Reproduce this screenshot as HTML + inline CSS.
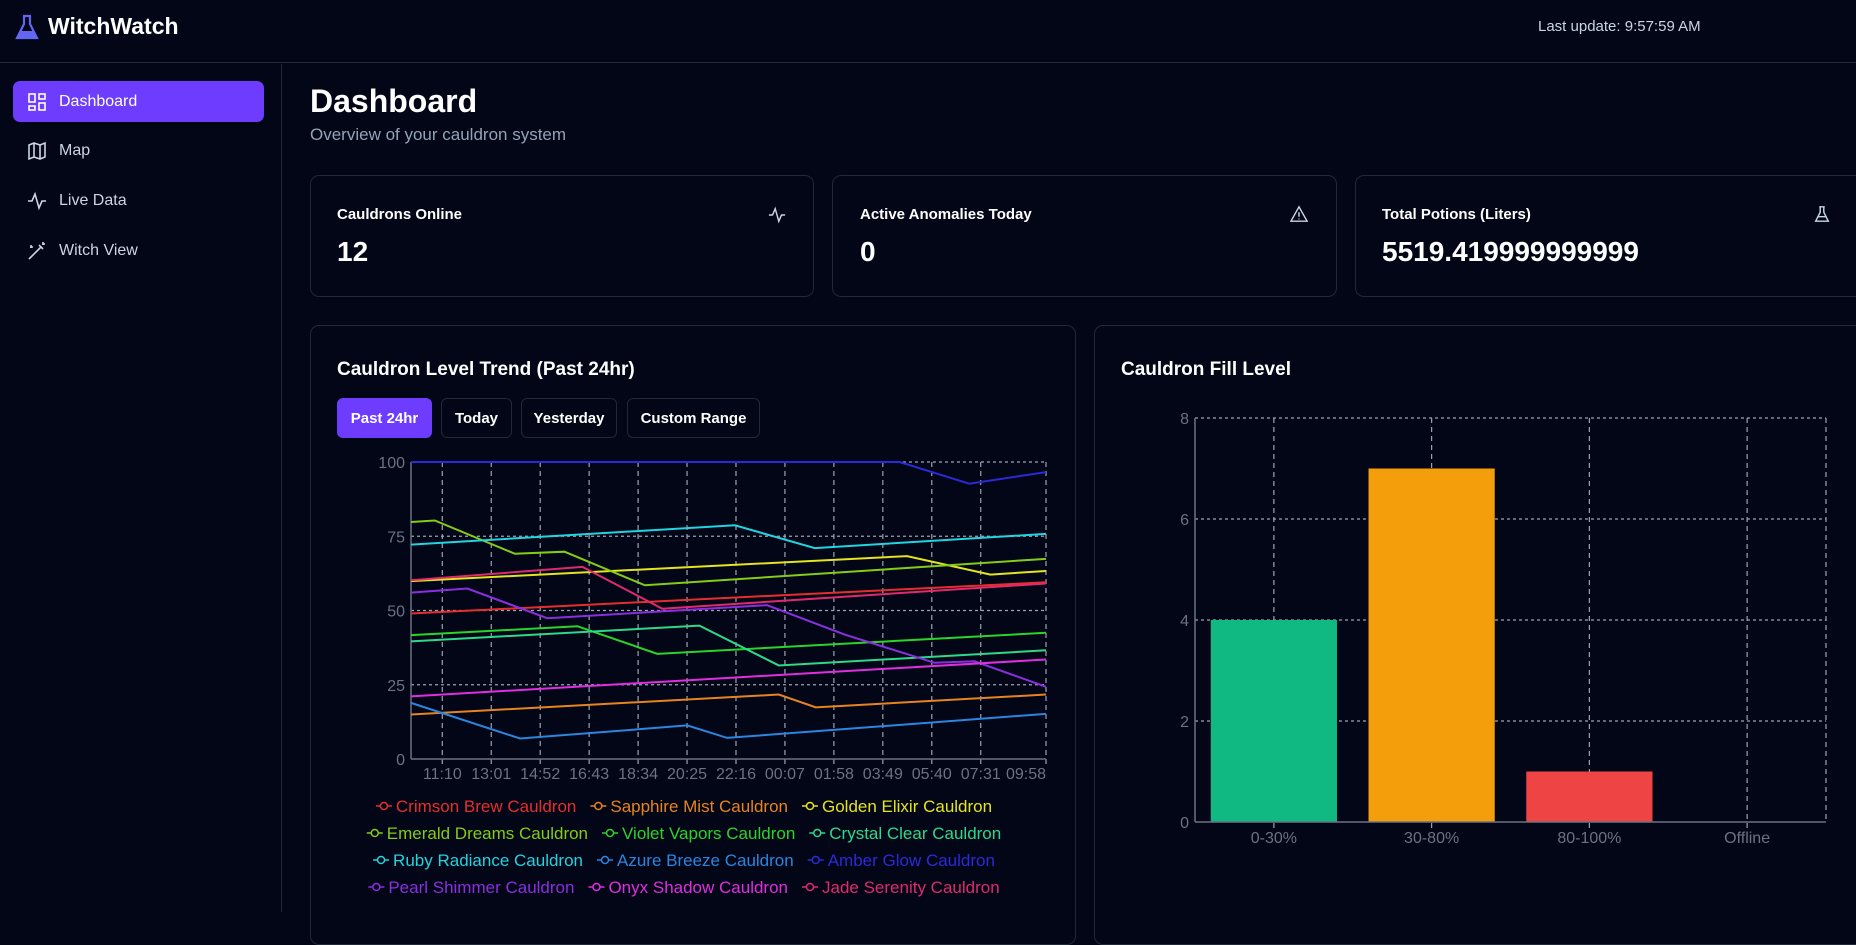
<!DOCTYPE html>
<html><head><meta charset="utf-8"><style>
*{box-sizing:border-box;margin:0;padding:0}
body{width:1856px;height:912px;overflow:hidden;background:#020617;font-family:"Liberation Sans",sans-serif;color:#fff;position:relative}
.abs{position:absolute}
.card{position:absolute;border:1px solid #1f2937;border-radius:9px;background:#020617}
.nav{position:absolute;left:13px;width:251px;height:41px;border-radius:7px;display:flex;align-items:center;font-size:16px;color:#cbd5e1}
.nav svg{margin-left:14px;margin-right:12px}
.btn{position:absolute;top:398px;height:40px;border:1px solid #1f2937;border-radius:6px;font-size:15px;font-weight:bold;display:flex;align-items:center;justify-content:center;color:#fff}
.lab{font-size:15px;font-weight:bold;position:absolute;top:206px}
.val{font-size:28px;font-weight:bold;position:absolute;top:236px}
</style></head><body>
<div class="abs" style="left:0;top:0;width:1856px;height:63px;border-bottom:1px solid #1f2937">
<svg class="abs" style="left:14px;top:14px" width="26" height="28" viewBox="0 0 26 28"><path d="M9 2h8M10 2v8L3 24h20L16 10V2" fill="none" stroke="#6366f1" stroke-width="2.2"/><path d="M6 17h14l3 7H3z" fill="#6366f1"/></svg>
<div class="abs" style="left:48px;top:13px;font-size:23px;font-weight:bold">WitchWatch</div>
<div class="abs" style="left:1538px;top:18px;font-size:15px;color:#cbd5e1">Last update: 9:57:59 AM</div>
</div>
<div class="abs" style="left:0;top:64px;width:282px;height:848px;border-right:1px solid #1f2937"></div>
<div class="nav" style="top:81px;background:#6d3cff;color:#fff"><svg width="20" height="20" viewBox="0 0 20 20" fill="none" stroke="#fff" stroke-width="1.6"><rect x="2" y="2" width="6" height="8"/><rect x="12" y="2" width="6" height="5"/><rect x="12" y="11" width="6" height="7"/><rect x="2" y="14" width="6" height="4"/></svg>Dashboard</div>
<div class="nav" style="top:130px"><svg width="20" height="20" viewBox="0 0 20 20" fill="none" stroke="#cbd5e1" stroke-width="1.6"><path d="M2 4l5-2 6 2 5-2v14l-5 2-6-2-5 2zM7 2v14M13 4v14"/></svg>Map</div>
<div class="nav" style="top:180px"><svg width="20" height="20" viewBox="0 0 20 20" fill="none" stroke="#cbd5e1" stroke-width="1.6"><path d="M1 10h4l3-7 4 14 3-7h4"/></svg>Live Data</div>
<div class="nav" style="top:230px"><svg width="20" height="20" viewBox="0 0 20 20" fill="none" stroke="#cbd5e1" stroke-width="1.6"><path d="M2 18L14 6M12 4l4 4M16 1v3M18 3h-3M4 4v3M6 6H3"/></svg>Witch View</div>
<div class="abs" style="left:310px;top:83px;font-size:32px;font-weight:bold">Dashboard</div>
<div class="abs" style="left:310px;top:125px;font-size:17px;color:#94a3b8">Overview of your cauldron system</div>

<div class="card" style="left:310px;top:175px;width:504px;height:122px"></div>
<div class="lab" style="left:337px">Cauldrons Online</div>
<div class="val" style="left:337px">12</div>
<svg class="abs" style="left:768px;top:206px" width="18" height="18" viewBox="0 0 20 20" fill="none" stroke="#cbd5e1" stroke-width="1.6"><path d="M1 10h4l3-7 4 14 3-7h4"/></svg>
<div class="card" style="left:832px;top:175px;width:505px;height:122px"></div>
<div class="lab" style="left:860px">Active Anomalies Today</div>
<div class="val" style="left:860px">0</div>
<svg class="abs" style="left:1290px;top:205px" width="18" height="18" viewBox="0 0 20 20" fill="none" stroke="#cbd5e1" stroke-width="1.6"><path d="M10 2L1 18h18zM10 8v5M10 15v1"/></svg>
<div class="card" style="left:1355px;top:175px;width:520px;height:122px"></div>
<div class="lab" style="left:1382px">Total Potions (Liters)</div>
<div class="val" style="left:1382px">5519.419999999999</div>
<svg class="abs" style="left:1813px;top:205px" width="18" height="18" viewBox="0 0 20 20" fill="none" stroke="#cbd5e1" stroke-width="1.6"><path d="M7 2h6M8 2v6L3 18h14L12 8V2M5 13h10"/></svg>

<div class="card" style="left:310px;top:325px;width:766px;height:620px"></div>
<div class="abs" style="left:337px;top:359px;font-size:19px;font-weight:bold">Cauldron Level Trend (Past 24hr)</div>
<div class="btn" style="left:337px;width:95px;background:#6d3cff;border-color:#6d3cff">Past 24hr</div>
<div class="btn" style="left:441px;width:71px">Today</div>
<div class="btn" style="left:521px;width:96px">Yesterday</div>
<div class="btn" style="left:627px;width:133px">Custom Range</div>
<svg class="abs" id="lc" style="left:0;top:0" width="1856" height="912"></svg>

<div class="card" style="left:1094px;top:325px;width:800px;height:620px"></div>
<div class="abs" style="left:1121px;top:359px;font-size:19px;font-weight:bold">Cauldron Fill Level</div>
<svg class="abs" id="bc" style="left:0;top:0" width="1856" height="912"></svg>

<script>
const names=["Crimson Brew Cauldron","Sapphire Mist Cauldron","Golden Elixir Cauldron","Emerald Dreams Cauldron","Violet Vapors Cauldron","Crystal Clear Cauldron","Ruby Radiance Cauldron","Azure Breeze Cauldron","Amber Glow Cauldron","Pearl Shimmer Cauldron","Onyx Shadow Cauldron","Jade Serenity Cauldron"];
const colors=["#e62e2e","#e8841f","#e4e41f","#84cc16","#2ad42a","#2ed98a","#22d3e0","#2a86e0","#2a2ad8","#8b2ee0","#e02ee0","#e02a6e"];
// hours since start (09:59) and values
const t0=[0,24], v0=[49,59.5];
const t1=[0,13.9,15.3,24], v1=[15,21.7,17.4,21.7];
const t2=[0,18.75,21.9,24], v2=[59.9,68.3,62.1,63.3];
const t3=[0,0.9,3.93,5.8,8.84,24], v3=[79.8,80.3,69.1,69.8,58.5,67.4];
const t4=[0,6.29,9.31,24], v4=[41.7,44.7,35.4,42.5];
const t5=[0,10.9,13.9,24], v5=[39.6,44.9,31.5,36.6];
const t6=[0,12.24,15.26,24], v6=[72.2,78.7,71,75.8];
const t7=[0,4.12,10.44,11.95,24], v7=[18.9,6.9,11.3,7.1,15.2];
const t8=[0,18.47,21.1,24], v8=[100,100,92.7,96.6];
const t9=[0,2.13,5.15,13.46,16.39,19.79,21.3,24], v9=[56,57.4,47.4,51.8,41.9,32.4,32.9,24.3];
const t10=[0,24], v10=[21.1,33.5];
const t11=[0,6.48,9.5,24], v11=[60.2,64.7,50.6,59.1];
const xTickLabels=["11:10","13:01","14:52","16:43","18:34","20:25","22:16","00:07","01:58","03:49","05:40","07:31","09:58"];
const xTickHours=[1.183,3.033,4.883,6.733,8.583,10.433,12.283,14.133,15.983,17.833,19.683,21.533,24];
const yTicks=[0,25,50,75,100];
const T=[t0,t1,t2,t3,t4,t5,t6,t7,t8,t9,t10,t11],V=[v0,v1,v2,v3,v4,v5,v6,v7,v8,v9,v10,v11];
const NS="http://www.w3.org/2000/svg";
function mk(p,tag,a){const e=document.createElementNS(NS,tag);for(const k in a)e.setAttribute(k,a[k]);p.appendChild(e);return e;}
const L=411,R=1046,TOP=462,BOT=759;
const xs=h=>L+(R-L)*h/24, ys=v=>BOT-(BOT-TOP)*v/100;
const lc=document.getElementById('lc');
yTicks.forEach(v=>{
 if(v>0){const g=mk(lc,'line',{x1:L,x2:R,y1:ys(v),y2:ys(v),stroke:'#9ca3af','stroke-dasharray':'3 3','stroke-width':1.2});
 
 }
 const t=mk(lc,'text',{x:L-6,y:ys(v)+6,'text-anchor':'end','font-size':16,fill:'#6b7280','font-family':'Liberation Sans'});t.textContent=v;
 
 
});
xTickHours.forEach((h,i)=>{
 const g=mk(lc,'line',{x1:xs(h),x2:xs(h),y1:TOP,y2:BOT+6,stroke:'#9ca3af','stroke-dasharray':'5 4','stroke-width':1.2});
 
 
 const t=mk(lc,'text',{x:xs(h),y:779,'text-anchor':i==xTickHours.length-1?'end':'middle','font-size':16,fill:'#6b7280','font-family':'Liberation Sans'});t.textContent=xTickLabels[i];
 
 
});
mk(lc,'line',{x1:L,x2:L,y1:TOP,y2:BOT,stroke:'#6b7280','stroke-width':1.5});
mk(lc,'line',{x1:L,x2:R,y1:BOT,y2:BOT,stroke:'#6b7280','stroke-width':1.5});
T.forEach((ts,i)=>{
 const pts=ts.map((h,j)=>xs(h)+','+ys(V[i][j])).join(' ');
 const p=mk(lc,'polyline',{points:pts,fill:'none',stroke:colors[i],'stroke-width':2});
 
 
});
// legend
const rows=[[0,1,2],[3,4,5],[6,7,8],[9,10,11]];
const ctx=document.createElement('canvas').getContext('2d');ctx.font='17px "Liberation Sans"';
rows.forEach((r,ri)=>{
 const ws=r.map(i=>28+ctx.measureText(names[i]).width);const tot=ws.reduce((a,b)=>a+b)+ (r.length-1)*6;
 let x=688-tot/2;const y=806+ri*27;
 r.forEach((i,k)=>{
  const g=mk(lc,'g',{});
  
  
  mk(g,'line',{x1:x,x2:x+16,y1:y,y2:y,stroke:colors[i],'stroke-width':1.5});
  mk(g,'circle',{cx:x+8,cy:y,r:3.5,fill:'#020617',stroke:colors[i],'stroke-width':1.5});
  const t=mk(g,'text',{x:x+20,y:y+6,'font-size':17,fill:colors[i],'font-family':'Liberation Sans'});t.textContent=names[i];
  x+=ws[k]+6;
 });
});
// bar chart
const cats=["0-30%","30-80%","80-100%","Offline"];
const counts=[4,7,1,0];
const barColors=["#10b981","#f59e0b","#ef4444","#6b7280"];
const bTicks=[0,2,4,6,8];
const bc=document.getElementById('bc');
const BL=1195,BR=1826,BT=418,BB=822;
const bx=i=>BL+(BR-BL)*(i+0.5)/cats.length, by=v=>BB-(BB-BT)*v/8, bw=(BR-BL)/cats.length*0.8;
bTicks.forEach(v=>{
 if(v>0){const g=mk(bc,'line',{x1:BL,x2:BR,y1:by(v),y2:by(v),stroke:'#9ca3af','stroke-dasharray':'3 3','stroke-width':1.2});
 
 }
 const t=mk(bc,'text',{x:BL-6,y:by(v)+6,'text-anchor':'end','font-size':16,fill:'#6b7280','font-family':'Liberation Sans'});t.textContent=v;
 
 
});
cats.forEach((c,i)=>{
 const g=mk(bc,'line',{x1:bx(i),x2:bx(i),y1:BT,y2:BB+6,stroke:'#9ca3af','stroke-dasharray':'5 4','stroke-width':1.2});
 
 
});
mk(bc,'line',{x1:BR,x2:BR,y1:BT,y2:BB,stroke:'#9ca3af','stroke-dasharray':'5 4','stroke-width':1.2});
cats.forEach((c,i)=>{
 const r=mk(bc,'rect',{x:bx(i)-bw/2,y:by(counts[i]),width:bw,height:BB-by(counts[i]),fill:barColors[i]});
 
 
 const t=mk(bc,'text',{x:bx(i),y:843,'text-anchor':'middle','font-size':16,fill:'#6b7280','font-family':'Liberation Sans'});t.textContent=c;
 
 
});
mk(bc,'line',{x1:BL,x2:BL,y1:BT,y2:BB,stroke:'#6b7280','stroke-width':1.5});
mk(bc,'line',{x1:BL,x2:BR,y1:BB,y2:BB,stroke:'#6b7280','stroke-width':1.5});
</script>
</body></html>
